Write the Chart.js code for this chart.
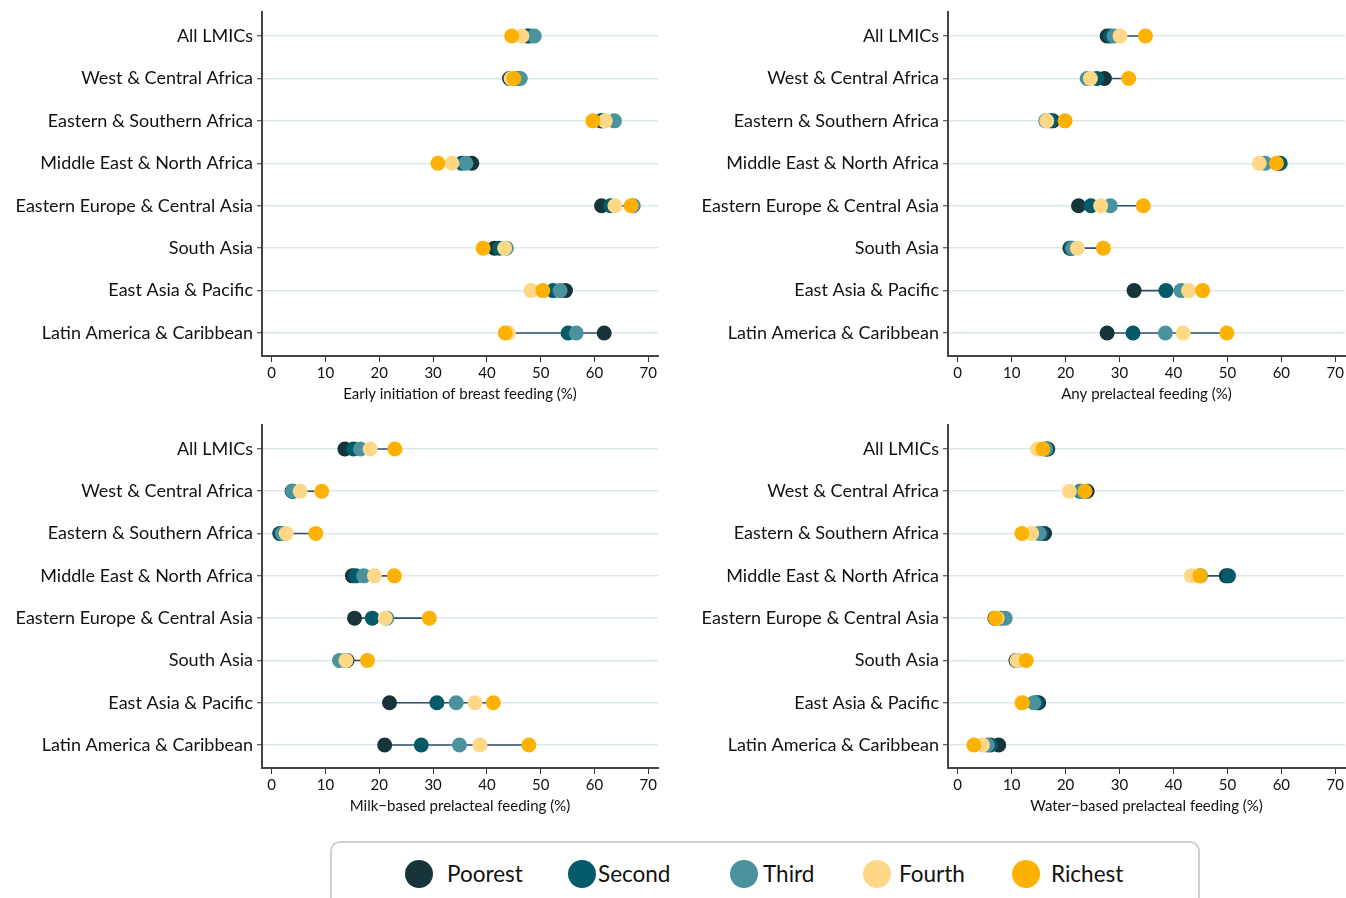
<!DOCTYPE html>
<html>
<head>
<meta charset="utf-8">
<script src="https://cdn.jsdelivr.net/npm/chart.js@4.4.1/dist/chart.umd.min.js"></script>
<style>
  body { margin: 0; background: #fff; width: 1346px; height: 898px; overflow: hidden; position: relative; font-family: Lato, sans-serif; }
  .panel { position: absolute; }
  .legend { position: absolute; left: 330px; top: 841px; width: 866px; height: 70px; border: 2px solid #d0d0d0; border-radius: 10px; }
  .item { position: absolute; top: 16px; height: 30px; line-height: 30px; font-size: 22.5px; color: #111; }
  .dot { position: absolute; top: 1px; width: 28px; height: 28px; border-radius: 50%; }
</style>
</head>
<body>
<div class="panel" style="left:0;top:0;width:670px;height:412px"><canvas id="c1"></canvas></div>
<div class="panel" style="left:686px;top:0;width:660px;height:412px"><canvas id="c2"></canvas></div>
<div class="panel" style="left:0;top:413px;width:670px;height:411px"><canvas id="c3"></canvas></div>
<div class="panel" style="left:686px;top:413px;width:660px;height:411px"><canvas id="c4"></canvas></div>
<div class="legend" id="legend"></div>
<script>
const categories = ['All LMICs', 'West & Central Africa', 'Eastern & Southern Africa', 'Middle East & North Africa',
  'Eastern Europe & Central Asia', 'South Asia', 'East Asia & Pacific', 'Latin America & Caribbean'];
const quintiles = ['Poorest', 'Second', 'Third', 'Fourth', 'Richest'];
const quintileColors = ['#17343a', '#035a68', '#4a929e', '#fed886', '#ffb100'];
const xTicks = [0, 10, 20, 30, 40, 50, 60, 70];

// Early initiation of breast feeding (%)
const earlyPoorest = [47.5, 44.2, 61.5, 37.2, 61.3, 41.4, 54.6, 61.8];
const earlySecond  = [48.0, 45.8, 61.2, 35.3, 63.0, 42.3, 52.3, 55.1];
const earlyThird   = [48.8, 46.2, 63.7, 36.1, 67.2, 43.6, 53.6, 56.6];
const earlyFourth  = [46.5, 44.5, 62.0, 33.5, 63.8, 43.3, 48.2, 44.0];
const earlyRichest = [44.6, 45.0, 59.7, 30.9, 66.8, 39.3, 50.4, 43.4];

// Any prelacteal feeding (%)
const anyPoorest = [27.7, 27.2, 17.6, 59.5, 22.4, 20.8, 32.7, 27.7];
const anySecond  = [28.3, 25.8, 17.2, 59.8, 24.7, 21.0, 38.6, 32.5];
const anyThird   = [29.0, 24.0, 16.3, 57.0, 28.3, 21.3, 41.4, 38.5];
const anyFourth  = [30.1, 24.6, 16.5, 55.9, 26.5, 22.2, 42.8, 41.8];
const anyRichest = [34.8, 31.7, 19.9, 59.1, 34.4, 27.0, 45.4, 49.9];

// Milk-based prelacteal feeding (%)
const milkPoorest = [13.6, 3.8, 1.5, 15.0, 15.4, 14.0, 21.9, 21.0];
const milkSecond  = [15.2, 3.9, 1.7, 15.6, 18.7, 13.8, 30.7, 27.8];
const milkThird   = [16.5, 3.9, 2.0, 17.1, 21.4, 12.6, 34.3, 34.9];
const milkFourth  = [18.3, 5.3, 2.7, 19.1, 21.1, 13.8, 37.8, 38.7];
const milkRichest = [22.9, 9.3, 8.2, 22.8, 29.3, 17.8, 41.2, 47.8];

// Water-based prelacteal feeding (%)
const waterPoorest = [16.7, 24.0, 16.1, 49.8, 6.9, 10.8, 15.0, 7.6];
const waterSecond  = [16.5, 22.7, 15.5, 50.2, 7.9, 11.0, 14.6, 6.1];
const waterThird   = [16.3, 23.0, 15.1, 45.0, 8.8, 11.0, 14.1, 5.5];
const waterFourth  = [14.8, 20.7, 13.7, 43.3, 7.3, 11.0, 11.8, 4.6];
const waterRichest = [15.8, 23.6, 11.9, 44.9, 7.0, 12.7, 12.0, 3.0];

Chart.defaults.font.family = 'Lato, sans-serif';
Chart.defaults.color = '#111';

function makePanel(id, title, series, yWidth, xHeight, rightPad) {
  var datasets = [];
  // min-max connector for each region
  categories.forEach(function(c, i) {
    var vals = series.map(function(s) { return s[i]; });
    datasets.push({
      type: 'line',
      data: [{x: Math.min.apply(null, vals), y: i + 1}, {x: Math.max.apply(null, vals), y: i + 1}],
      borderColor: '#2f4f70',
      borderWidth: 1.6,
      pointRadius: 0,
      order: 10
    });
  });
  series.forEach(function(s, q) {
    datasets.push({
      label: quintiles[q],
      data: s.map(function(v, i) { return {x: v, y: i + 1}; }),
      backgroundColor: quintileColors[q],
      borderWidth: 0,
      pointRadius: 7.5,
      order: 5 - q
    });
  });

  new Chart(document.getElementById(id).getContext('2d'), {
    type: 'scatter',
    data: { datasets: datasets },
    options: {
      responsive: true,
      maintainAspectRatio: false,
      animation: false,
      layout: { autoPadding: false, padding: { top: 12, right: rightPad, left: 0, bottom: 0 } },
      plugins: { legend: { display: false }, tooltip: { enabled: false } },
      scales: {
        y: {
          type: 'linear',
          reverse: true,
          min: 0.434,
          max: 8.542,
          afterBuildTicks: function(s) { s.ticks = categories.map(function(c, i) { return {value: i + 1}; }); },
          afterFit: function(s) { s.width = yWidth; s.paddingTop = 0; s.paddingBottom = 0; },
          ticks: {
            autoSkip: false,
            padding: 4,
            font: { size: 18 },
            color: '#111',
            callback: function(v) { return categories[v - 1]; }
          },
          grid: { color: '#dde7ee', lineWidth: 1.5, tickColor: '#333', tickLength: 5, tickWidth: 1 },
          border: { color: '#444', width: 2 }
        },
        x: {
          type: 'linear',
          min: -1.8,
          max: 71.8,
          afterBuildTicks: function(s) { s.ticks = xTicks.map(function(v) { return {value: v}; }); },
          afterFit: function(s) { s.height = xHeight; s.paddingLeft = 0; s.paddingRight = 0; },
          ticks: { autoSkip: false, maxRotation: 0, padding: 2, font: { size: 15 }, color: '#111' },
          grid: { drawOnChartArea: false, tickColor: '#333', tickLength: 6, tickWidth: 1 },
          border: { color: '#444', width: 2 },
          title: { display: true, text: title, font: { size: 15 }, color: '#111', padding: { top: 0, bottom: 9 } }
        }
      }
    }
  });
}

makePanel('c1', 'Early initiation of breast feeding (%)',
  [earlyPoorest, earlySecond, earlyThird, earlyFourth, earlyRichest], 262, 56, 12);
makePanel('c2', 'Any prelacteal feeding (%)',
  [anyPoorest, anySecond, anyThird, anyFourth, anyRichest], 262, 56, 1);
makePanel('c3', 'Milk\u2212based prelacteal feeding (%)',
  [milkPoorest, milkSecond, milkThird, milkFourth, milkRichest], 262, 56, 12);
makePanel('c4', 'Water\u2212based prelacteal feeding (%)',
  [waterPoorest, waterSecond, waterThird, waterFourth, waterRichest], 262, 56, 1);

// legend
var legendPos = [[73, 115], [236, 266], [398, 431], [531, 567], [680, 719]];
var legend = document.getElementById('legend');
quintiles.forEach(function(q, i) {
  var dot = document.createElement('div');
  dot.className = 'dot';
  dot.style.left = legendPos[i][0] + 'px';
  dot.style.top = '17px';
  dot.style.background = quintileColors[i];
  legend.appendChild(dot);
  var lab = document.createElement('div');
  lab.className = 'item';
  lab.style.left = legendPos[i][1] + 'px';
  lab.textContent = q;
  legend.appendChild(lab);
});
</script>
</body>
</html>
